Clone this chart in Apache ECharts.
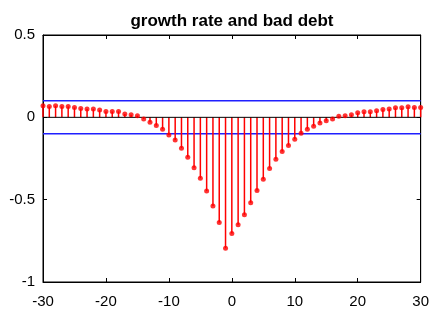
<!DOCTYPE html>
<html>
<head>
<meta charset="utf-8">
<script src="https://cdn.jsdelivr.net/npm/echarts@6/dist/echarts.min.js"></script>
<style>
  html, body { margin: 0; padding: 0; background: #fff; }
  #chart { width: 432px; height: 320px; }
</style>
</head>
<body>
<div id="chart"></div>
<script>
// Cross-correlation lags and coefficients
const lags = [];
for (let k = -30; k <= 30; k++) lags.push(k);

const corr = [
  0.070, 0.066, 0.070, 0.066, 0.066, 0.060, 0.054, 0.050, 0.050, 0.044,
  0.036, 0.036, 0.036, 0.020, 0.016, 0.010, -0.010, -0.030, -0.050, -0.072,
  -0.107, -0.137, -0.187, -0.243, -0.306, -0.370, -0.447, -0.539, -0.638, -0.795,
  -0.706,
  -0.652, -0.592, -0.519, -0.445, -0.376, -0.310, -0.254, -0.207, -0.171, -0.133,
  -0.097, -0.072, -0.054, -0.034, -0.020, -0.010, 0.006, 0.010, 0.016, 0.028,
  0.034, 0.034, 0.040, 0.048, 0.050, 0.058, 0.058, 0.064, 0.060, 0.060
];

// Confidence bounds
const bound = 0.1;
const xRange = [-30, 30];
const yRange = [-1, 0.5];
const xTickStep = 10;
const yTickStep = 0.5;

const points = lags.map((k, i) => [k, corr[i]]);

const font = '"Liberation Sans", Arial, sans-serif';

const chart = echarts.init(document.getElementById('chart'));

const tickStyle = { inside: true, length: 4, lineStyle: { color: '#000', width: 1 } };

chart.setOption({
  animation: false,
  backgroundColor: '#fff',
  title: {
    text: 'growth rate and bad debt',
    left: 232,
    textAlign: 'center',
    top: 13,
    padding: 0,
    textStyle: { fontFamily: font, fontSize: 17, fontWeight: 'bold', color: '#000' }
  },
  grid: {
    left: 43, right: 11, top: 35, bottom: 38,
    show: true, borderColor: '#000', borderWidth: 1, backgroundColor: 'transparent'
  },
  xAxis: [
    {
      type: 'value', min: xRange[0], max: xRange[1], interval: xTickStep,
      position: 'bottom',
      axisLine: { show: true, onZero: false, lineStyle: { color: '#000' } },
      axisTick: tickStyle,
      splitLine: { show: false },
      axisLabel: { fontFamily: font, fontSize: 15, color: '#000', margin: 12 }
    },
    {
      type: 'value', min: xRange[0], max: xRange[1], interval: xTickStep,
      position: 'top',
      axisLine: { show: true, onZero: false, lineStyle: { color: '#000' } },
      axisTick: tickStyle,
      splitLine: { show: false },
      axisLabel: { show: false }
    }
  ],
  yAxis: [
    {
      type: 'value', min: yRange[0], max: yRange[1], interval: yTickStep,
      position: 'left',
      axisLine: { show: true, onZero: false, lineStyle: { color: '#000' } },
      axisTick: tickStyle,
      splitLine: { show: false },
      axisLabel: { fontFamily: font, fontSize: 15, color: '#000', margin: 8, padding: [3, 0, 0, 0] }
    },
    {
      type: 'value', min: yRange[0], max: yRange[1], interval: yTickStep,
      position: 'right',
      axisLine: { show: true, onZero: false, lineStyle: { color: '#000' } },
      axisTick: tickStyle,
      splitLine: { show: false },
      axisLabel: { show: false }
    }
  ],
  series: [
    {
      // upper and lower bounds
      type: 'line',
      data: [[xRange[0], bound], [xRange[1], bound]],
      symbol: 'none',
      lineStyle: { color: '#1f1fff', width: 1.5 },
      silent: true, z: 1
    },
    {
      type: 'line',
      data: [[xRange[0], -bound], [xRange[1], -bound]],
      symbol: 'none',
      lineStyle: { color: '#1f1fff', width: 1.5 },
      silent: true, z: 1
    },
    {
      // stems from zero to each coefficient
      type: 'custom',
      data: points,
      renderItem: function (params, api) {
        const x = api.value(0);
        const top = api.coord([x, api.value(1)]);
        const base = api.coord([x, 0]);
        return {
          type: 'line',
          shape: { x1: base[0], y1: base[1], x2: top[0], y2: top[1] },
          style: { stroke: '#ff0000', lineWidth: 1.5 }
        };
      },
      silent: true, z: 2
    },
    {
      // stem baseline
      type: 'line',
      data: [[xRange[0], 0], [xRange[1], 0]],
      symbol: 'none',
      lineStyle: { color: '#000', width: 1 },
      silent: true, z: 3
    },
    {
      // stem heads
      type: 'scatter',
      data: points,
      symbol: 'circle',
      symbolSize: 5,
      itemStyle: { color: '#ff0000' },
      silent: true, z: 4
    }
  ]
});
</script>
</body>
</html>
